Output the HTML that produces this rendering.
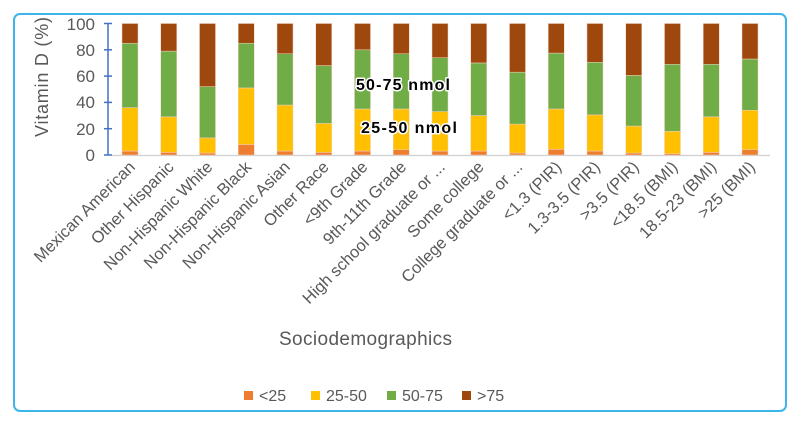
<!DOCTYPE html>
<html><head><meta charset="utf-8"><style>
html,body{margin:0;padding:0;background:#fff;width:800px;height:426px;overflow:hidden}
</style></head><body>
<svg width="800" height="426" xmlns="http://www.w3.org/2000/svg" font-family="'Liberation Sans', sans-serif">
<rect x="14" y="14" width="772" height="397" rx="6" fill="#fff" stroke="#3db5ea" stroke-width="2"/>
<text transform="translate(48,77) rotate(-90)" text-anchor="middle" font-size="18" fill="#595959" textLength="120">Vitamin D (%)</text>
<g font-size="17" fill="#595959" text-anchor="end">
<text x="95" y="161">0</text><text x="95" y="135">20</text><text x="95" y="108">40</text>
<text x="95" y="82">60</text><text x="95" y="56">80</text><text x="95" y="30">100</text>
</g>
<line x1="112" y1="155.5" x2="770" y2="155.5" stroke="#d0d0d0" stroke-width="1.2"/>
<g id="bars"></g>
<line x1="108" y1="24" x2="108" y2="155" stroke="#4472c4" stroke-width="1.5"/>
<g stroke="#4472c4" stroke-width="1.5">
<line x1="104" y1="155" x2="112" y2="155"/><line x1="104" y1="128.7" x2="112" y2="128.7"/>
<line x1="104" y1="102.4" x2="112" y2="102.4"/><line x1="104" y1="76.1" x2="112" y2="76.1"/>
<line x1="104" y1="49.8" x2="112" y2="49.8"/><line x1="104" y1="23.5" x2="112" y2="23.5"/>
</g>
<g id="labels" font-size="16.5" fill="#595959" text-anchor="end"></g>
<g font-size="16" font-weight="bold" fill="#000" stroke="#fff" stroke-width="3" paint-order="stroke" stroke-linejoin="round">
<text x="356" y="90" textLength="94">50-75 nmol</text>
<text x="361" y="133" textLength="96">25-50 nmol</text>
</g>
<text x="279" y="345" font-size="19" fill="#595959" textLength="173">Sociodemographics</text>
<g font-size="16" fill="#595959">
<rect x="244" y="391" width="9" height="9" fill="#ed7d31"/><text x="259" y="401">&lt;25</text>
<rect x="311" y="391" width="9" height="9" fill="#ffc000"/><text x="326" y="401">25-50</text>
<rect x="387" y="391" width="9" height="9" fill="#70ad47"/><text x="402" y="401">50-75</text>
<rect x="462" y="391" width="9" height="9" fill="#9e480e"/><text x="477" y="401">&gt;75</text>
</g>
</svg>
<script>
var d=[[3,36,85],[2,29,79],[1.5,13,52],[8,51,85],[3,38,77],[2,24,68],[3,35,80],[4,35,77],[3,33,74],[3,30,70],[1.5,23.5,63],[4.3,35,77.5],[3,30.5,70.5],[1.5,22,60.5],[1,18,69],[2,29,69],[4,34,73]];
var L=["Mexican American","Other Hispanic","Non-Hispanic White","Non-Hispanic Black","Non-Hispanic Asian","Other Race","<9th Grade","9th-11th Grade","High school graduate or ...","Some college","College graduate or ...","<1.3 (PIR)","1.3-3.5 (PIR)",">3.5 (PIR)","<18.5 (BMI)","18.5-23 (BMI)",">25 (BMI)"];
var cols=["#ed7d31","#ffc000","#70ad47","#9e480e"];
var ns="http://www.w3.org/2000/svg",bg=document.getElementById("bars"),lg=document.getElementById("labels");
function Y(v){return 155-v*1.315;}
d.forEach(function(r,i){
 var cx=130+i*38.75,v=[0,r[0],r[1],r[2],100];
 for(var k=0;k<4;k++){var e=document.createElementNS(ns,"rect");
  e.setAttribute("x",cx-8);e.setAttribute("width",16);
  e.setAttribute("y",Y(v[k+1]));e.setAttribute("height",Y(v[k])-Y(v[k+1]));
  e.setAttribute("fill",cols[k]);e.setAttribute("stroke","#f4d0c0");e.setAttribute("stroke-width","0.5");bg.appendChild(e);}
 var t=document.createElementNS(ns,"text");t.textContent=L[i];
 t.setAttribute("transform","translate("+(cx+6)+",168) rotate(-45)");lg.appendChild(t);
});
</script>
</body></html>
